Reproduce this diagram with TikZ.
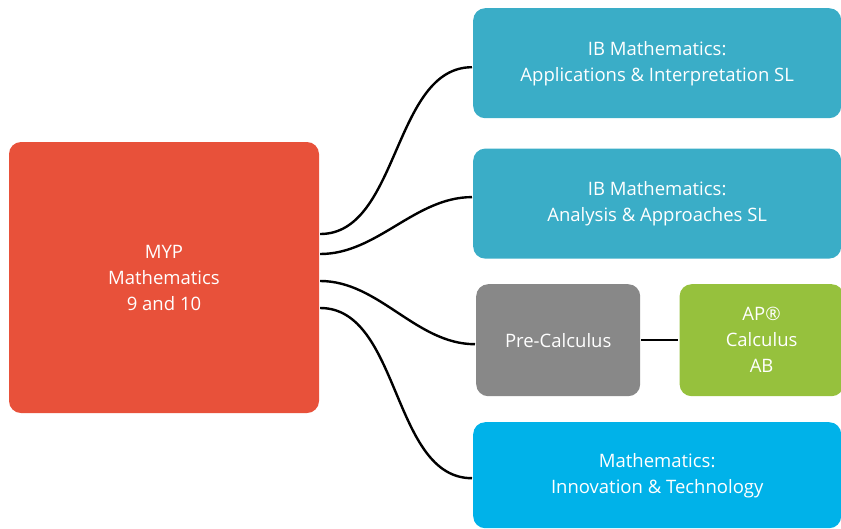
\documentclass[tikz,border=0pt]{standalone}
\usepackage{fontspec}
\setmainfont{Open Sans}
\usetikzlibrary{positioning}

\definecolor{mypred}{HTML}{E8513A}
\definecolor{ibteal}{HTML}{3AADC7}
\definecolor{pcgray}{HTML}{888888}
\definecolor{apgreen}{HTML}{96C13D}
\definecolor{itblue}{HTML}{00B2E9}

\begin{document}
\begin{tikzpicture}
      [x=1pt, y=1pt, line width=2.4pt,
      course/.style={rectangle, rounded corners=12pt, text=white, align=center,
        inner sep=0pt, font=\fontsize{18.5}{26}\selectfont},
      wide/.style={course, minimum width=368pt, minimum height=110pt},
      small/.style={course, minimum width=164pt, minimum height=112pt},
      link/.style={out=0, in=180, looseness=0.9}]

      \path[use as bounding box] (0,0) rectangle (841,-528);

      \node [course, fill=mypred, minimum width=310pt, minimum height=271pt] (myp)
        at (164,-277.5) {MYP\\Mathematics\\9 and 10};
      \node [wide, fill=ibteal, anchor=north west] (ai) at (472,-7)
        {IB Mathematics:\\Applications \& Interpretation SL};
      \node [wide, fill=ibteal, below=28pt of ai] (aa)
        {IB Mathematics:\\Analysis \& Approaches SL};
      \node [small, fill=pcgray, anchor=north west] (pc) at (475,-283) {Pre-Calculus};
      \node [small, fill=apgreen, right=37pt of pc] (ap) {AP®\\Calculus\\AB};
      \node [wide, fill=itblue, minimum height=106pt, anchor=north west] (it) at (472,-421)
        {Mathematics:\\Innovation \& Technology};

      \draw ([yshift=43.5pt]myp.east)  to [link] ([yshift=-4pt]ai.west);
      \draw ([yshift=23.5pt]myp.east)  to [link] ([yshift=6.5pt]aa.west);
      \draw ([yshift=-3.5pt]myp.east)  to [link] ([yshift=-4pt]pc.west);
      \draw ([yshift=-30.5pt]myp.east) to [link] ([yshift=-3pt]it.west);
      \draw (pc) -- (ap);
    \end{tikzpicture}
\end{document}
